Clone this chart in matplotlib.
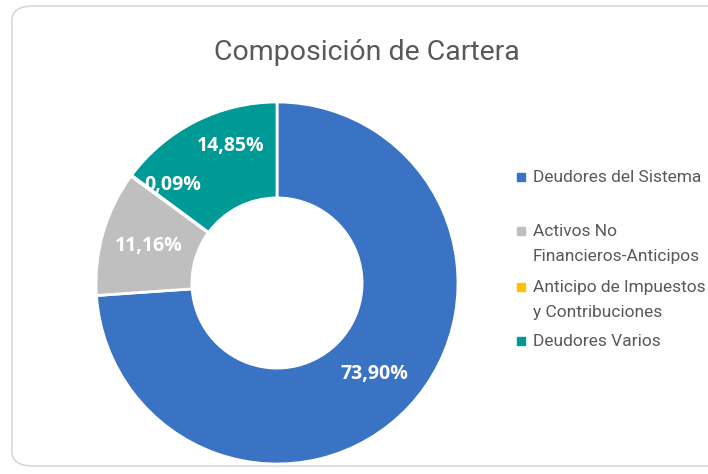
import matplotlib
matplotlib.use("Agg")
import matplotlib.pyplot as plt
import numpy as np
from matplotlib.patches import FancyBboxPatch, Rectangle

categories = ["Deudores del Sistema", "Activos No\nFinancieros-Anticipos",
              "Anticipo de Impuestos\ny Contribuciones", "Deudores Varios"]
values = [73.90, 11.16, 0.09, 14.85]
labels = ["73,90%", "11,16%", "0,09%", "14,85%"]
colors = ["#3A73C4", "#BFBFBF", "#FFC000", "#009A96"]

W, H = 708, 474
fig = plt.figure(figsize=(W / 100, H / 100), dpi=100)

# rounded chart frame (behind the axes)
frame = FancyBboxPatch((12 / W, 8 / H), (W + 20) / W, 460 / H,
                       boxstyle="round,pad=0,rounding_size=0.03",
                       transform=fig.transFigure, facecolor="white",
                       edgecolor="#D9D9D9", linewidth=1.2, zorder=-5)
fig.patches.append(frame)

# donut, center (277, 283) px, radius 181 px
cx, cy, r = 277, 283, 181
lim = 1.02
ax = fig.add_axes([(cx - r * lim) / W, (H - cy - r * lim) / H,
                   2 * r * lim / W, 2 * r * lim / H])
wedges, _ = ax.pie(values, colors=colors, startangle=90, counterclock=False,
                   wedgeprops=dict(width=0.53, edgecolor="white", linewidth=2))
ax.set_xlim(-lim, lim)
ax.set_ylim(-lim, lim)
ax.set_aspect("equal")
ax.axis("off")

# labels at middle of ring, small nudges like the original
nudges = [(0, 0), (0, 0), (-7, 10), (-8, 12)]
for w, lab, (da, dr) in zip(wedges, labels, nudges):
    ang = np.deg2rad((w.theta1 + w.theta2) / 2 + da)
    rad = 0.735 + dr / r
    ax.text(rad * np.cos(ang), rad * np.sin(ang), lab, color="white",
            fontsize=14, fontweight="bold", family="Open Sans",
            ha="center", va="center")

# title
fig.text(367 / W, 1 - 52 / H, "Composición de Cartera", ha="center",
         va="center", fontsize=20.5, color="#595959", family="Roboto")

# legend drawn by hand, marker beside the first line of each entry
legend_y = [177, 231, 287, 341]
for col, cat, y in zip(colors, categories, legend_y):
    fig.patches.append(Rectangle((517 / W, 1 - (y + 4) / H), 8 / W, 8 / H,
                                 transform=fig.transFigure, color=col))
    fig.text(533 / W, 1 - (y - 7) / H, cat, ha="left", va="top",
             fontsize=12.5, color="#595959", family="Roboto",
             linespacing=1.8)

fig.savefig("out.png", dpi=100)
